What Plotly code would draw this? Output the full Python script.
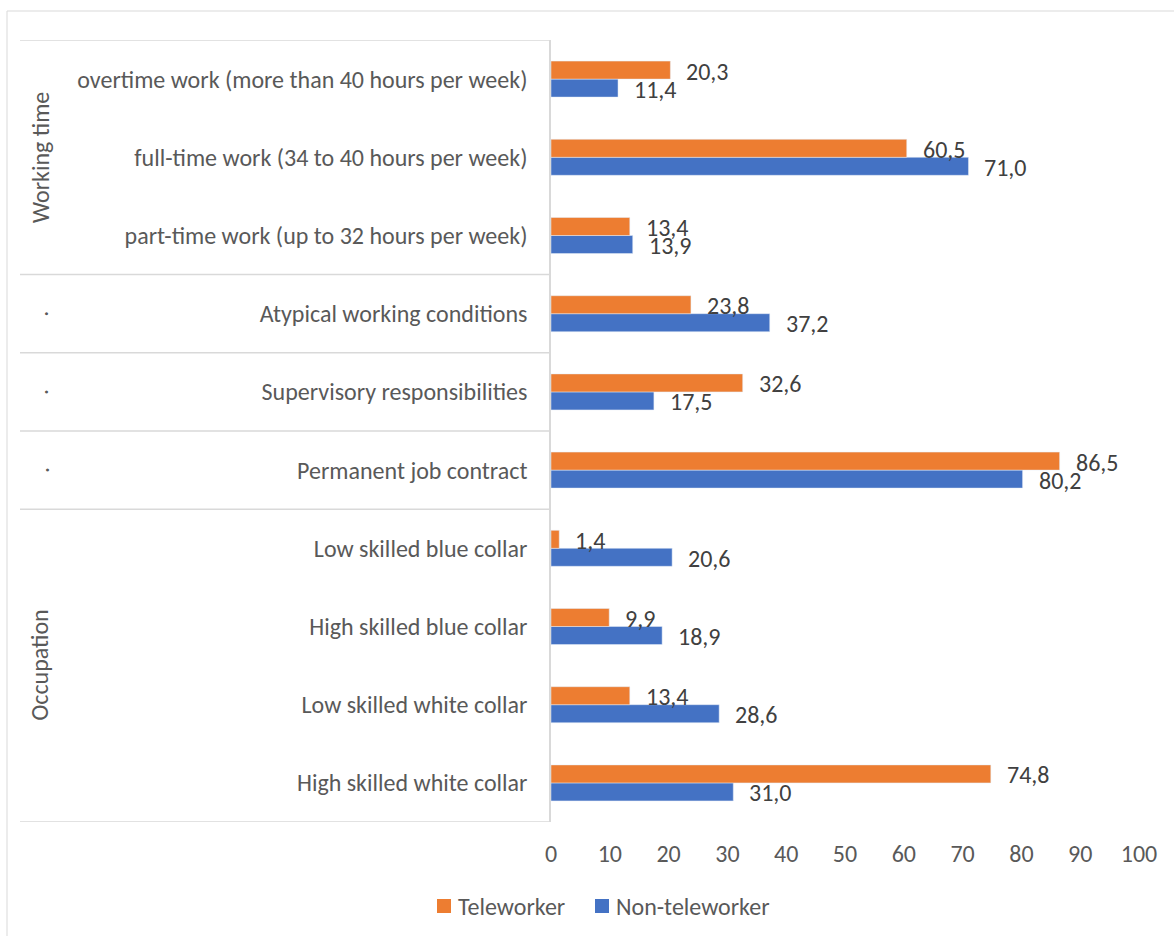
import plotly.graph_objects as go

# Categories listed bottom-to-top (Plotly draws the first category at the bottom)
categories = [
    "High skilled white collar",
    "Low skilled white collar",
    "High skilled blue collar",
    "Low skilled blue collar",
    "Permanent job contract",
    "Supervisory responsibilities",
    "Atypical working conditions",
    "part-time work (up to 32 hours per week)",
    "full-time work (34 to 40 hours per week)",
    "overtime work (more than 40 hours per week)",
]
teleworker = [74.8, 13.4, 9.9, 1.4, 86.5, 32.6, 23.8, 13.4, 60.5, 20.3]
non_teleworker = [31.0, 28.6, 18.9, 20.6, 80.2, 17.5, 37.2, 13.9, 71.0, 11.4]

# Group labels with the category index range they cover
groups = [("Occupation", 0, 3), (".", 4, 4), (".", 5, 5), (".", 6, 6), ("Working time", 7, 9)]
x_ticks = [0, 10, 20, 30, 40, 50, 60, 70, 80, 90, 100]
series_names = ["Teleworker", "Non-teleworker"]

ORANGE = "#ED7D31"
BLUE = "#4472C4"
GRID = "#D9D9D9"
TXT = "#595959"
LBL = "#404040"
FONT = "Calibri, Carlito, Open Sans, sans-serif"

W, H = 1174, 936
L, R, T, B = 551, 35, 40, 114
pw, ph = W - L - R, H - T - B


def px_x(p):
    return (p - L) / pw


def px_y(p):
    return (H - B - p) / ph


def fmt(v):
    return f"{v:.1f}".replace(".", ",")


fig = go.Figure()
fig.add_trace(go.Bar(
    y=categories, x=non_teleworker, orientation="h", name=series_names[1],
    marker=dict(color=BLUE), showlegend=False,
))
fig.add_trace(go.Bar(
    y=categories, x=teleworker, orientation="h", name=series_names[0],
    marker=dict(color=ORANGE), showlegend=False,
))

annotations = []
for i, cat in enumerate(categories):
    annotations.append(dict(
        x=teleworker[i], y=i, xref="x", yref="y", text=fmt(teleworker[i]),
        showarrow=False, xanchor="left", yanchor="middle", xshift=14, yshift=8,
        font=dict(family=FONT, size=24, color=LBL),
    ))
    annotations.append(dict(
        x=non_teleworker[i], y=i, xref="x", yref="y", text=fmt(non_teleworker[i]),
        showarrow=False, xanchor="left", yanchor="middle", xshift=14, yshift=-10,
        font=dict(family=FONT, size=24, color=LBL),
    ))

for name, lo, hi in groups:
    annotations.append(dict(
        x=px_x(40), y=(lo + hi) / 2, xref="paper", yref="y", text=name, textangle=-90,
        showarrow=False, xanchor="center", yanchor="middle",
        font=dict(family=FONT, size=24, color=TXT),
    ))

shapes = []
# Horizontal separators between category groups
for yb in [-0.5, 3.5, 4.5, 5.5, 6.5, 9.5]:
    shapes.append(dict(type="line", xref="paper", yref="y", x0=px_x(20), x1=px_x(551),
                       y0=yb, y1=yb, line=dict(color=GRID, width=1.5)))
# Outer chart frame
shapes.append(dict(type="line", xref="paper", yref="paper", x0=px_x(7), x1=px_x(1200),
                   y0=px_y(11), y1=px_y(11), line=dict(color=GRID, width=1)))
shapes.append(dict(type="line", xref="paper", yref="paper", x0=px_x(7), x1=px_x(7),
                   y0=px_y(11), y1=px_y(960), line=dict(color=GRID, width=1)))

# Legend: colour swatch followed by series name
legend_items = [(series_names[0], ORANGE, 437), (series_names[1], BLUE, 595)]
for name, color, lx in legend_items:
    shapes.append(dict(type="rect", xref="paper", yref="paper",
                       x0=px_x(lx), x1=px_x(lx + 14), y0=px_y(899), y1=px_y(913),
                       fillcolor=color, line=dict(width=0)))
    annotations.append(dict(
        x=px_x(lx + 19), y=px_y(906), xref="paper", yref="paper", text=name,
        showarrow=False, xanchor="left", yanchor="middle",
        font=dict(family=FONT, size=24, color=TXT),
    ))

fig.update_layout(
    width=W, height=H,
    margin=dict(l=L, r=R, t=T, b=B),
    paper_bgcolor="white", plot_bgcolor="white",
    barmode="group", bargap=0.54, bargroupgap=0,
    font=dict(family=FONT, size=24, color=TXT),
    showlegend=False,
    annotations=annotations,
    shapes=shapes,
)
fig.update_xaxes(range=[0, 100], tickvals=x_ticks, showgrid=False, zeroline=False,
                 showline=False, ticks="", ticklabelstandoff=15,
                 tickfont=dict(family=FONT, size=24, color=TXT))
fig.update_yaxes(showgrid=False, zeroline=False, showline=True, linecolor=GRID, linewidth=1.5,
                 ticks="", ticklabelstandoff=17, range=[-0.5, 9.5],
                 tickfont=dict(family=FONT, size=24, color=TXT))

fig.write_html("out.html")
